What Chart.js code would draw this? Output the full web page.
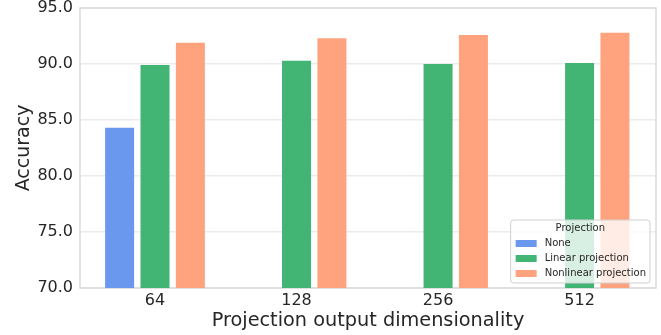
<!DOCTYPE html>
<html>
<head>
<meta charset="utf-8">
<script src="https://cdn.jsdelivr.net/npm/chart.js@4"></script>
<style>
  html, body { margin: 0; padding: 0; background: #fff; }
  #wrap { width: 661px; height: 335px; }
</style>
</head>
<body>
<div id="wrap"><canvas id="chart"></canvas></div>
<script>
// Datos
const categories = ['64', '128', '256', '512'];
const noneVals = [84.3, null, null, null];
const linearVals = [89.9, 90.3, 90.0, 90.1];
const nonlinearVals = [91.9, 92.3, 92.6, 92.8];
const seriesNames = ['None', 'Linear projection', 'Nonlinear projection'];
const yTicks = [70, 75, 80, 85, 90, 95];

const FONT = "'DejaVu Sans', sans-serif";
const TEXT = '#262626';
const colors = ['rgba(100,149,237,0.97)', 'rgba(60,179,113,0.97)', 'rgba(255,160,122,0.97)'];

const toPoints = vals => vals.map((y, i) => ({ x: i, y }));

// Marco gris alrededor del area del grafico
const framePlugin = {
    id: 'frame',
    beforeDatasetsDraw(chart) {
        const { ctx, chartArea: a } = chart;
        ctx.save();
        ctx.strokeStyle = '#dcdcdc';
        ctx.lineWidth = 1.6;
        ctx.strokeRect(a.left, a.top, a.right - a.left, a.bottom - a.top);
        ctx.restore();
    }
};

// Leyenda dentro del grafico (abajo a la derecha)
const boxLegend = {
    id: 'boxLegend',
    afterDatasetsDraw(chart) {
        const { ctx, chartArea: a } = chart;
        ctx.save();
        ctx.font = '10px ' + FONT;
        const textW = Math.max(...chart.data.datasets.map(d => ctx.measureText(d.label).width));
        const w = 5 + 21 + 8 + textW + 4;
        const h = 63;
        const x = a.right - 6 - w;
        const y = a.bottom - 5 - h;

        ctx.beginPath();
        ctx.roundRect(x, y, w, h, 3);
        ctx.fillStyle = 'rgba(255,255,255,0.8)';
        ctx.fill();
        ctx.strokeStyle = '#d0d0d0';
        ctx.lineWidth = 1;
        ctx.stroke();

        ctx.fillStyle = TEXT;
        ctx.textBaseline = 'middle';
        ctx.textAlign = 'center';
        ctx.fillText('Projection', x + w / 2, y + 8.5);

        ctx.textAlign = 'left';
        chart.data.datasets.forEach((d, i) => {
            const cy = y + 23.5 + i * 15;
            ctx.fillStyle = d.backgroundColor;
            ctx.fillRect(x + 5, cy - 3.5, 21, 7);
            ctx.fillStyle = TEXT;
            ctx.fillText(d.label, x + 34, cy);
        });
        ctx.restore();
    }
};

const datasetList = [noneVals, linearVals, nonlinearVals].map((vals, i) => ({
    label: seriesNames[i],
    data: toPoints(vals),
    backgroundColor: colors[i],
    borderWidth: 0,
    categoryPercentage: 0.75,
    barPercentage: 0.82
}));

new Chart(document.getElementById('chart'), {
    type: 'bar',
    data: { datasets: datasetList },
    options: {
        responsive: true,
        maintainAspectRatio: false,
        animation: false,
        layout: { padding: { left: 13, right: 5, top: 0, bottom: 0 } },
        plugins: {
            legend: { display: false },
            tooltip: { enabled: false }
        },
        scales: {
            x: {
                type: 'linear',
                offset: false,
                min: -0.53,
                max: 3.54,
                afterBuildTicks: s => { s.ticks = categories.map((_, i) => ({ value: i })); },
                afterFit: s => { s.height = 47; s.paddingLeft = 0; s.paddingRight = 0; },
                grid: { display: false, drawTicks: false },
                border: { display: false },
                ticks: {
                    color: TEXT,
                    font: { family: FONT, size: 16 },
                    padding: 3,
                    maxRotation: 0,
                    callback: v => categories[v]
                },
                title: {
                    display: true,
                    text: 'Projection output dimensionality',
                    color: TEXT,
                    font: { family: FONT, size: 19.3 },
                    padding: { top: 0, bottom: 2 }
                }
            },
            y: {
                min: 70,
                max: 95,
                afterBuildTicks: s => { s.ticks = yTicks.map(v => ({ value: v })); },
                afterFit: s => { s.width = 67; s.paddingTop = 8; s.paddingBottom = 0; },
                grid: { color: '#ebebeb', lineWidth: 1.4, drawTicks: false },
                border: { display: false },
                ticks: {
                    color: TEXT,
                    font: { family: FONT, size: 16, lineHeight: 1 },
                    padding: 7,
                    callback: v => v.toFixed(1)
                },
                title: {
                    display: true,
                    text: 'Accuracy',
                    color: TEXT,
                    font: { family: FONT, size: 19 },
                    padding: { top: 0, bottom: 0 }
                }
            }
        }
    },
    plugins: [framePlugin, boxLegend]
});
</script>
</body>
</html>
